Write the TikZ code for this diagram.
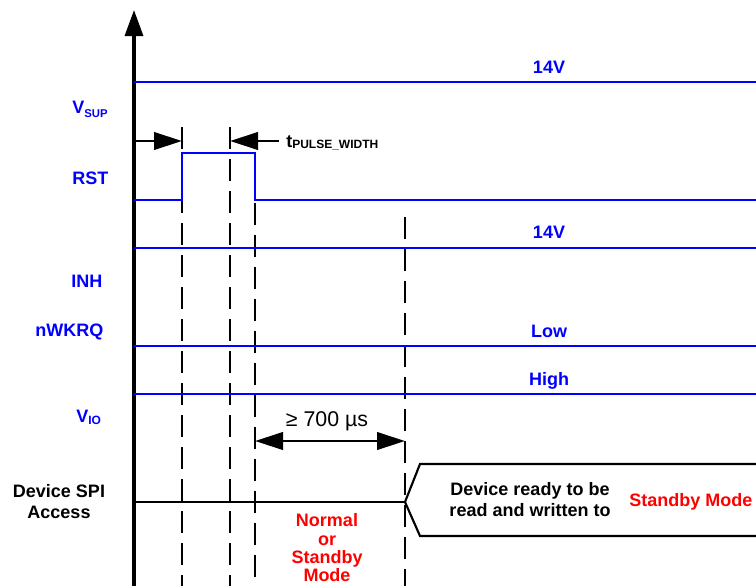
\documentclass[tikz,border=0pt]{standalone}
\usepackage{fontspec}
\setmainfont{Liberation Sans}
\usetikzlibrary{arrows.meta}
\definecolor{sigblue}{RGB}{0,0,255}
\definecolor{modered}{RGB}{255,0,0}
\begin{document}
\begin{tikzpicture}[x=0.75pt,y=-0.75pt,
  wave/.style={sigblue,line width=1.7pt},
  guide/.style={black,line width=2pt,dash pattern=on 16.5pt off 7.5pt},
  axisline/.style={black,line width=2.5pt,-{Triangle[length=19.5pt,width=13.5pt]}},
  dimarrow/.style={black,line width=2.2pt,-{Triangle[length=21pt,width=13pt]}},
  dimboth/.style={black,line width=2.2pt,{Triangle[length=21pt,width=13pt]}-{Triangle[length=21pt,width=13pt]}},
  busline/.style={black,line width=1.6pt},
  bigfont/.style={font=\fontsize{13.5}{16}\selectfont\bfseries,inner sep=0pt},
  siglbl/.style={bigfont,text=sigblue,anchor=base west},
  lvllbl/.style={bigfont,text=sigblue,anchor=base},
  blacklbl/.style={bigfont,text=black,anchor=base},
  redlbl/.style={bigfont,text=modered,anchor=base}
]
\useasboundingbox (0,0) rectangle (756,586);

% guide (dashed) lines
\coordinate (g1t) at (182,127); \coordinate (g1b) at (182,586);
\coordinate (g2t) at (230,127); \coordinate (g2b) at (230,586);
\coordinate (g3t) at (255,203); \coordinate (g3b) at (255,586);
\coordinate (g4t) at (405,217); \coordinate (g4b) at (405,586);
\draw[guide] (g1t) -- (g1b);
\draw[guide] (g2t) -- (g2b);
\draw[guide] (g3t) -- (g3b);
\draw[guide] (g4t) -- (g4b);

% axis
\coordinate (ax0) at (134,586);
\coordinate (ax1) at (134,10);
\draw[axisline] (ax0) -- (ax1);

% VSUP
\coordinate (vs0) at (134,82); \coordinate (vs1) at (756,82);
\draw[wave] (vs0) -- (vs1);
\node[lvllbl] (vsupval) at (549,73) {14V};
\node[siglbl] (vsup) at (72,113) {V\raisebox{-3pt}{\fontsize{8.5}{9}\selectfont SUP}};

% RST
\coordinate (r0) at (134,200); \coordinate (r1) at (182,200);
\coordinate (r2) at (182,153); \coordinate (r3) at (255,153);
\coordinate (r4) at (255,200); \coordinate (r5) at (756,200);
\draw[wave] (r0) -- (r1) -- (r2) -- (r3) -- (r4) -- (r5);
\node[siglbl] (rst) at (72,184) {RST};

% t pulse width
\coordinate (tp0) at (134,141); \coordinate (tp1) at (182,141);
\coordinate (tp2) at (279,141); \coordinate (tp3) at (230,141);
\draw[dimarrow] (tp0) -- (tp1);
\draw[dimarrow] (tp2) -- (tp3);
\node[bigfont,anchor=base west] (tpw) at (286,147) {t\raisebox{-1pt}{\fontsize{9}{10}\selectfont PULSE\_WIDTH}};

% INH
\coordinate (i0) at (134,248); \coordinate (i1) at (756,248);
\draw[wave] (i0) -- (i1);
\node[lvllbl] (inhval) at (549,238) {14V};
\node[siglbl] (inh) at (71,287) {INH};

% nWKRQ
\coordinate (n0) at (134,346); \coordinate (n1) at (756,346);
\draw[wave] (n0) -- (n1);
\node[lvllbl] (nwval) at (549,337) {Low};
\node[siglbl] (nwkrq) at (35,336) {nWKRQ};

% VIO
\coordinate (v0) at (134,394); \coordinate (v1) at (756,394);
\draw[wave] (v0) -- (v1);
\node[lvllbl] (vioval) at (549,385) {High};
\node[siglbl] (vio) at (76,422) {V\raisebox{-2pt}{\fontsize{9}{10}\selectfont IO}};

% 700 us
\coordinate (d0) at (255,441); \coordinate (d1) at (405,441);
\draw[dimboth] (d0) -- (d1);
\node[font=\fontsize{16}{18}\selectfont,inner sep=0pt,anchor=base] (dly) at (327,426) {≥ 700 µs};

% SPI access
\coordinate (s0) at (134,502); \coordinate (s1) at (405,502);
\coordinate (h1) at (420,464); \coordinate (h2) at (756,464);
\coordinate (h3) at (420,536); \coordinate (h4) at (756,536);
\draw[busline] (s0) -- (s1);
\draw[busline] (h2) -- (h1) -- (s1) -- (h3) -- (h4);
\node[blacklbl] (spi1) at (59,497) {Device SPI};
\node[blacklbl] (spi2) at (59,518) {Access};
\node[blacklbl] (rdy1) at (530,495) {Device ready to be};
\node[blacklbl] (rdy2) at (530,516) {read and written to};
\node[bigfont,text=modered,anchor=base west] (stby) at (629,506) {Standby Mode};
\node[redlbl] (m1) at (327,526) {Normal};
\node[redlbl] (m2) at (327,545) {or};
\node[redlbl] (m3) at (327,563) {Standby};
\node[redlbl] (m4) at (327,581) {Mode};
\end{tikzpicture}
\end{document}
